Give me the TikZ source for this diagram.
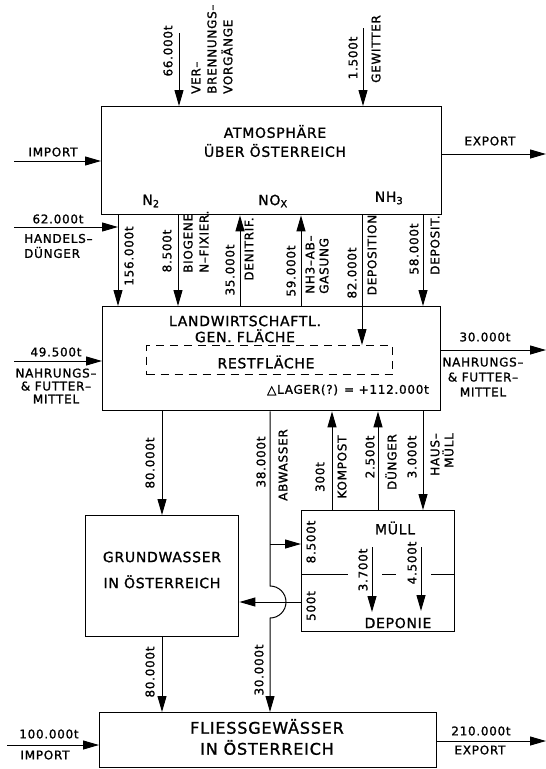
\documentclass[tikz,border=0pt]{standalone}
\usepackage{fontspec}
\setmainfont{DejaVu Sans}[LetterSpace=5,FakeBold=1.2]
\newfontfamily\labfont{DejaVu Sans}[LetterSpace=6,FakeBold=1.2]
\usetikzlibrary{arrows.meta,calc}
\tikzset{
  box/.style={draw, line width=1.4pt, anchor=north west, inner sep=0pt},
  flow/.style={line width=1pt, -{Triangle[length=16pt,width=9pt]}},
  plain/.style={line width=1pt},
  lab/.style={font=\labfont\fontsize{12}{16}\selectfont, inner sep=0pt},
  rlab/.style={lab, rotate=90},
  big/.style={font=\fontsize{14}{18}\selectfont, inner sep=0pt, align=center},
}
\begin{document}
\begin{tikzpicture}[x=1pt,y=-1pt]
\path[fill=white] (0,0) rectangle (546,769);
\useasboundingbox (0,0) rectangle (546,769);

% boxes
\node[box, minimum width=340pt, minimum height=108pt] (atm) at (101,106) {};
\node[box, minimum width=338pt, minimum height=104pt] (land) at (102,306) {};
\node[box, minimum width=153pt, minimum height=121pt] (gw) at (85,515) {};
\node[box, minimum width=153pt, minimum height=121pt] (muell) at (301,510) {};
\node[box, minimum width=337pt, minimum height=55pt] (fl) at (99,712) {};
\node[draw, line width=1.1pt, dash pattern=on 8pt off 6pt, anchor=north west, inner sep=0pt,
      minimum width=246pt, minimum height=29pt] (rest) at (146,345) {};

% box texts
\node[big, font=\fontsize{14}{19}\selectfont] (tatm) at (275,141) {ATMOSPHÄRE\\ÜBER ÖSTERREICH};
\node[big] (tn2) at (151,201) {N\textsubscript{2}};
\node[big] (tnox) at (273,201) {NO\textsubscript{X}};
\node[big] (tnh3) at (389,198) {NH\textsubscript{3}};
\node[big, font=\fontsize{14}{16}\selectfont] (tland) at (245,329) {LANDWIRTSCHAFTL.\\GEN. FLÄCHE};
\node[big] (trest) at (266,362) {RESTFLÄCHE};
\node[lab] (tlag) at (348,390) {△LAGER(?) = +112.000t};
\node[big, font=\fontsize{14}{26}\selectfont] (tgw) at (162,570) {GRUNDWASSER\\IN ÖSTERREICH};
\node[big] (tmu) at (395,528) {MÜLL};
\node[big] (tdep) at (398,623) {DEPONIE};
\node[big, font=\fontsize{16}{21}\selectfont] (tfl) at (267,737) {FLIESSGEWÄSSER\\IN ÖSTERREICH};

% column / row coordinates
\coordinate (s66) at (179,33);
\coordinate (s15) at (363,28);
\coordinate (imp) at (14,161);
\coordinate (exp) at (546,154);
\coordinate (c156) at (118,0);
\coordinate (h62) at (14,227);
\coordinate (c85) at (178,0);
\coordinate (c35) at (240,0);
\coordinate (c59) at (301,0);
\coordinate (c82) at (362,0);
\coordinate (c58) at (423,0);
\coordinate (h49) at (14,361);
\coordinate (h30) at (546,350);
\coordinate (c80) at (162,0);
\coordinate (cab) at (270,0);
\coordinate (hopT) at (270,586);
\coordinate (h85) at (270,544);
\coordinate (h500) at (0,602);
\coordinate (ckp) at (332,0);
\coordinate (cdu) at (378,0);
\coordinate (chm) at (423,0);
\coordinate (d37a) at (372,547);
\coordinate (d37b) at (372,612);
\coordinate (d45a) at (421,547);
\coordinate (d45b) at (421,611);
\coordinate (dv) at (0,574);
\coordinate (dv1) at (348,574);
\coordinate (dv2) at (382,574);
\coordinate (dv3) at (396,574);
\coordinate (dv4) at (431,574);
\coordinate (h100) at (7,745);
\coordinate (h210) at (546,741);

% connectors: atmosphere
\draw[flow] (s66) -- (s66 |- atm.north);
\draw[flow] (s15) -- (s15 |- atm.north);
\draw[flow] (imp) -- (imp -| atm.west);
\draw[flow] (exp -| atm.east) -- (exp);
% atmosphere <-> land
\draw[flow] (atm.south -| c156) -- (land.north -| c156);
\draw[flow] (h62) -- (h62 -| c156);
\draw[flow] (atm.south -| c85) -- (land.north -| c85);
\draw[flow] (land.north -| c35) -- (atm.south -| c35);
\draw[flow] (land.north -| c59) -- (atm.south -| c59);
\draw[flow] (atm.south -| c82) -- (rest.north -| c82);
\draw[flow] (atm.south -| c58) -- (land.north -| c58);
\draw[flow] (h49) -- (h49 -| land.west);
\draw[flow] (h30 -| land.east) -- (h30);
% land -> below
\draw[flow] (land.south -| c80) -- (gw.north -| c80);
\draw[flow] (land.south -| cab) -- (hopT) arc[start angle=90, end angle=-90, radius=16pt] -- (fl.north -| cab);
\draw[flow] (h85) -- (h85 -| muell.west);
\draw[flow] (muell.west |- h500) -- (gw.east |- h500);
\draw[flow] (muell.north -| ckp) -- (land.south -| ckp);
\draw[flow] (muell.north -| cdu) -- (land.south -| cdu);
\draw[flow] (land.south -| chm) -- (muell.north -| chm);
\draw[flow] (d37a) -- (d37b);
\draw[flow] (d45a) -- (d45b);
\draw[plain] (muell.west |- dv) -- (dv1);
\draw[plain] (dv2) -- (dv3);
\draw[plain] (dv4) -- (muell.east |- dv);
% bottom
\draw[flow] (gw.south -| c80) -- (fl.north -| c80);
\draw[flow] (h100) -- (h100 -| fl.west);
\draw[flow] (h210 -| fl.east) -- (h210);

% labels top
\node[rlab] (l66) at (168,51) {66.000t};
\node[rlab, anchor=west, align=left] (lver) at (212,94) {VER–\\BRENNUNGS–\\VORGÄNGE};
\node[rlab] (l15) at (353,58) {1.500t};
\node[rlab] (lgew) at (376,49) {GEWITTER};
\node[lab] (limp) at (53,152) {IMPORT};
\node[lab] (lexp) at (490,141) {EXPORT};
% labels between atm and land
\node[lab] (l62) at (58,219) {62.000t};
\node[lab, anchor=west, align=left, font=\labfont\fontsize{12}{15}\selectfont] (lhd) at (24,246) {HANDELS–\\DÜNGER};
\node[rlab] (l156) at (129,256) {156.000t};
\node[rlab] (l85) at (167,251) {8.500t};
\node[rlab, anchor=west, align=left] (lbio) at (196,273) {BIOGENE\\N–FIXIER.};
\node[rlab] (l35) at (230,270) {35.000t};
\node[rlab] (lden) at (249,249) {DENITRIF.};
\node[rlab] (l59) at (291,271) {59.000t};
\node[rlab, anchor=west, align=left, font=\labfont\fontsize{12}{14}\selectfont] (lnh) at (317,294) {NH3–AB–\\GASUNG};
\node[rlab] (l82) at (352,273) {82.000t};
\node[rlab] (ldep) at (372,255) {DEPOSITION};
\node[rlab] (l58) at (414,249) {58.000t};
\node[rlab] (ldp) at (435,245) {DEPOSIT.};
% land side labels
\node[lab] (l49) at (56,352) {49.500t};
\node[lab, align=center, font=\labfont\fontsize{12}{13}\selectfont] (lnf1) at (56,386) {NAHRUNGS–\\\& FUTTER–\\MITTEL};
\node[lab] (l30) at (485,337) {30.000t};
\node[lab, align=center, font=\labfont\fontsize{12}{15}\selectfont] (lnf2) at (483,377) {NAHRUNGS–\\\& FUTTER–\\MITTEL};
% below land
\node[rlab] (l80a) at (150,463) {80.000t};
\node[rlab] (l38) at (261,462) {38.000t};
\node[rlab] (labw) at (283,465) {ABWASSER};
\node[rlab] (l300) at (320,477) {300t};
\node[rlab] (lkom) at (342,467) {KOMPOST};
\node[rlab] (l25) at (370,457) {2.500t};
\node[rlab] (ldue) at (391,462) {DÜNGER};
\node[rlab] (l3) at (412,457) {3.000t};
\node[rlab, anchor=east, align=right, font=\labfont\fontsize{12}{14}\selectfont] (lhm) at (442,433) {HAUS–\\MÜLL};
% muell
\node[rlab] (l85b) at (311,542) {8.500t};
\node[rlab] (l500) at (311,606) {500t};
\node[rlab] (l37) at (363,570) {3.700t};
\node[rlab] (l45) at (412,563) {4.500t};
% bottom
\node[rlab] (l80b) at (150,672) {80.000t};
\node[rlab] (l30b) at (259,670) {30.000t};
\node[lab] (l100) at (49,734) {100.000t};
\node[lab] (limp2) at (45,755) {IMPORT};
\node[lab] (l210) at (481,731) {210.000t};
\node[lab] (lexp2) at (480,750) {EXPORT};
\end{tikzpicture}
\end{document}
